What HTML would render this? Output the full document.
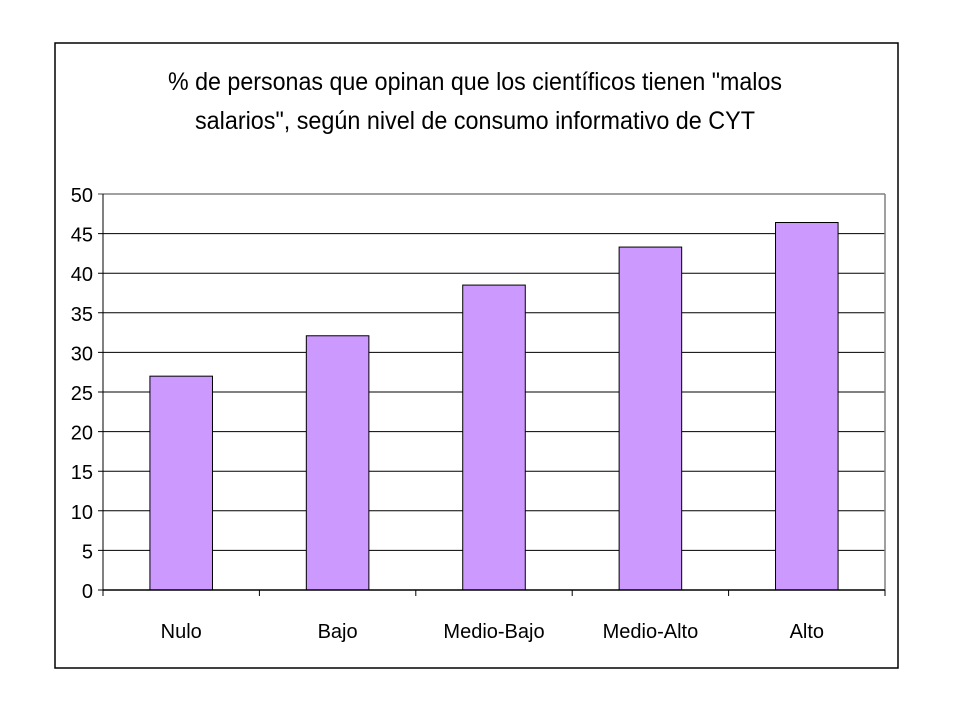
<!DOCTYPE html>
<html><head><meta charset="utf-8"><style>
html,body{margin:0;padding:0;background:#fff;}
svg{display:block;font-family:"Liberation Sans Narrow","Liberation Sans",sans-serif;}
</style></head><body>
<svg id="chart" width="960" height="720">
<rect x="55" y="43" width="843" height="625" fill="#fff" stroke="#000" stroke-width="1.5"/>
<text x="475" y="90" font-size="25" text-anchor="middle" textLength="614" lengthAdjust="spacingAndGlyphs">% de personas que opinan que los científicos tienen "malos</text>
<text x="475" y="129" font-size="25" text-anchor="middle" textLength="560" lengthAdjust="spacingAndGlyphs">salarios", según nivel de consumo informativo de CYT</text>
<g id="plot"></g>
</svg>
<script>
const categories = ["Nulo","Bajo","Medio-Bajo","Medio-Alto","Alto"];
const values = [27, 32.1, 38.5, 43.3, 46.4];
const yTicks = [0,5,10,15,20,25,30,35,40,45,50];
const yMax = 50;
const NS="http://www.w3.org/2000/svg";
const g=document.getElementById('plot');
const L=103,R=885,T=194,B=590;
const bw=(R-L)/categories.length;
const y=v=>B-(v/yMax)*(B-T);
const x=i=>L+i*bw;
function mk(t,a){const e=document.createElementNS(NS,t);for(const k in a)e.setAttribute(k,a[k]);g.appendChild(e);return e;}
yTicks.forEach(v=>{
  const gl=mk('line',{x1:L-5,x2:R,y1:y(v),y2:y(v),stroke:v===yMax?'#808080':'#000','stroke-width':v===yMax?1.5:1});
  
  
  const t=mk('text',{x:L-10,y:y(v)+8,'font-size':20,'text-anchor':'end'});
  t.textContent=v;
  
  
});
const pr=mk('line',{x1:R,x2:R,y1:T,y2:B,stroke:'#808080','stroke-width':1.5});


const ya=mk('line',{x1:L,x2:L,y1:T,y2:B,stroke:'#000','stroke-width':1});


categories.forEach((c,i)=>{
  const bx=x(i)+bw*0.3, w=bw*0.4;
  const r=mk('rect',{x:bx,y:y(values[i]),width:w,height:B-y(values[i]),fill:'#cc99ff',stroke:'#000','stroke-width':1});
  
  
  const tl=mk('text',{x:x(i)+bw/2,y:638,'font-size':20,'text-anchor':'middle'});
  tl.textContent=c;
  
  
});
for(let i=0;i<=categories.length;i++){
  const tk=mk('line',{x1:x(i),x2:x(i),y1:B,y2:B+6,stroke:'#000','stroke-width':1});
  
  
}
const xa=mk('line',{x1:L,x2:R,y1:B,y2:B,stroke:'#000','stroke-width':1.5});


</script>
</body></html>
